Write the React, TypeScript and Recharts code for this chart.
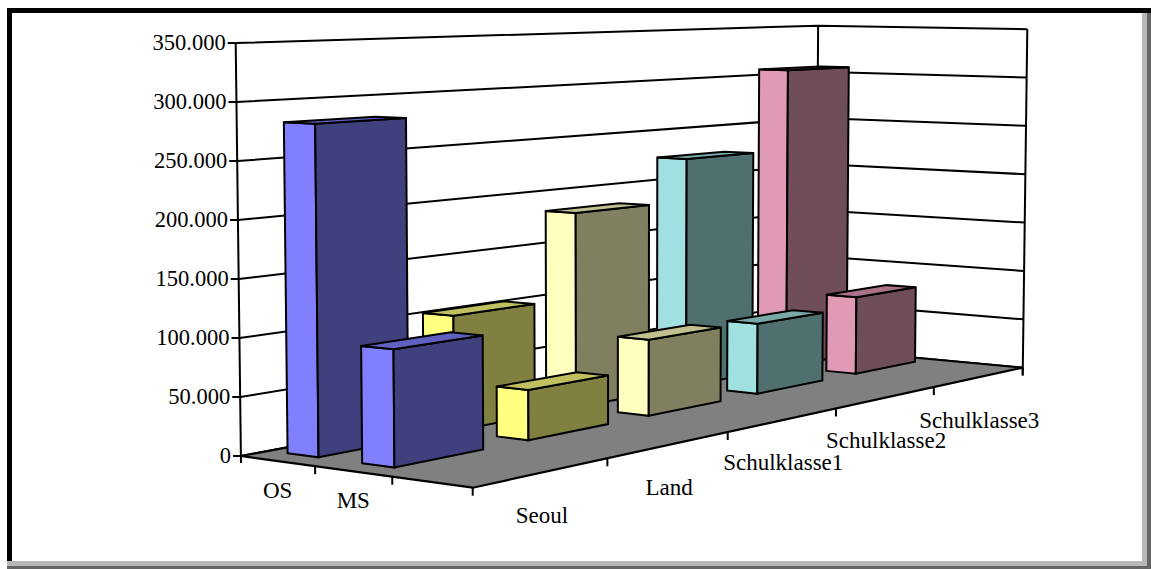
import React from "react";
import { Bar, BarChart, CartesianGrid, XAxis, YAxis } from "recharts";

// Categories run from the near corner to the far corner of the floor,
// rows run from the back to the front. The third row is empty.
const categories = ["Seoul", "Land", "Schulklasse1", "Schulklasse2", "Schulklasse3"];
const rows = ["OS", "MS", ""];
const osValues = [282000, 103000, 183000, 224500, 307000];
const msValues = [98000, 44000, 70300, 68000, 78000];
const valueTicks = [0, 50000, 100000, 150000, 200000, 250000, 300000, 350000];

const lightFaces = ["#8080FF", "#FFFF80", "#FFFFC0", "#A0E0E0", "#E09AB6"];
const darkFaces = ["#40407F", "#808040", "#808060", "#507070", "#704D5B"];
const topFaces = ["#6060C0", "#C0C060", "#C0C090", "#78A8A8", "#A87389"];

const WIDTH = 1151;
const HEIGHT = 569;
const PLOT_TOP = 43;
const PLOT_BOTTOM = 456;
const PLOT_LEFT = 241;
const STROKE = 2;
const FONT = { fontFamily: "Liberation Serif", fontSize: 23, fill: "#000" };

// Floor corners on screen; the oblique view is a homography of the unit square.
const FLOOR = { a: [241, 456], d: [816, 348.5], c: [1022.7, 367.7], b: [472.7, 487.7] };
const VANISH = [620, 30000];

const H = (() => {
  const [x0, y0] = FLOOR.a;
  const [x1, y1] = FLOOR.d;
  const [x2, y2] = FLOOR.c;
  const [x3, y3] = FLOOR.b;
  const dx1 = x1 - x2;
  const dx2 = x3 - x2;
  const sx = x0 - x1 + x2 - x3;
  const dy1 = y1 - y2;
  const dy2 = y3 - y2;
  const sy = y0 - y1 + y2 - y3;
  const det = dx1 * dy2 - dx2 * dy1;
  const g = (sx * dy2 - dx2 * sy) / det;
  const h = (dx1 * sy - sx * dy1) / det;
  return {
    a: x1 - x0 + g * x1,
    b: x3 - x0 + h * x3,
    c: x0,
    d: y1 - y0 + g * y1,
    e: y3 - y0 + h * y3,
    f: y0,
    g,
    h,
  };
})();

// u: along categories, v: along rows, lift: pixels on the value scale.
function project(u: number, v: number, lift = 0): [number, number] {
  const w = H.g * u + H.h * v + 1;
  const px = (H.a * u + H.b * v + H.c) / w;
  const py = (H.d * u + H.e * v + H.f) / w;
  const dx = px - VANISH[0];
  const dy = py - VANISH[1];
  const len = Math.hypot(dx, dy);
  const up = lift / w;
  return [px + (dx / len) * up, py + (dy / len) * up];
}

const pts = (list: [number, number][]) => list.map((p) => p.join(",")).join(" ");

const U_HALF = 0.065;
const V_HALF = 0.07;
const uCentre = (i: number) => (i + 0.52) / categories.length;
const vCentre = (j: number) => (j + 0.46) / rows.length;

function Box({ payload, height, row }: any) {
  const i = categories.indexOf(payload.category);
  const u0 = uCentre(i) - U_HALF;
  const u1 = uCentre(i) + U_HALF;
  const v0 = vCentre(row) - V_HALF;
  const v1 = vCentre(row) + V_HALF;
  const common = { stroke: "#000", strokeWidth: STROKE, strokeLinejoin: "miter" as const };
  return (
    <g>
      <polygon
        {...common}
        fill={lightFaces[i]}
        points={pts([project(u0, v0), project(u0, v1), project(u0, v1, height), project(u0, v0, height)])}
      />
      <polygon
        {...common}
        fill={darkFaces[i]}
        points={pts([project(u0, v1), project(u1, v1), project(u1, v1, height), project(u0, v1, height)])}
      />
      <polygon
        {...common}
        fill={topFaces[i]}
        points={pts([project(u0, v0, height), project(u0, v1, height), project(u1, v1, height), project(u1, v0, height)])}
      />
    </g>
  );
}

// Walls, floor and the tick marks of the two floor axes
function Room() {
  const plotH = PLOT_BOTTOM - PLOT_TOP;
  const line = { stroke: "#000", strokeWidth: STROKE, fill: "none" };
  const corner = (u: number, v: number, below: number) => {
    const [x, y] = project(u, v);
    const [tx, ty] = project(u, v, plotH);
    return <line {...line} x1={x} y1={y + below} x2={tx} y2={ty} />;
  };
  return (
    <g>
      <polygon
        points={pts([project(0, 0), project(1, 0), project(1, 1), project(0, 1)])}
        fill="#808080"
        stroke="#000"
        strokeWidth={2.2}
      />
      {corner(0, 0, 7)}
      {corner(1, 0, 0)}
      {corner(1, 1, 7)}
      {categories.map((c, i) => {
        const [x, y] = project((i + 1) / categories.length, 1);
        return <line key={c} {...line} x1={x} y1={y} x2={x} y2={y + 8} />;
      })}
      {rows.map((r, j) => {
        const [x, y] = project(0, (j + 1) / rows.length);
        return <line key={j} {...line} x1={x} y1={y} x2={x} y2={y + 8} />;
      })}
      {rows.map((r, j) => {
        const [x, y] = project(0, (j + 0.5) / rows.length);
        return (
          <text key={j} x={x} y={y + 37} textAnchor="middle" {...FONT}>
            {r}
          </text>
        );
      })}
    </g>
  );
}

// Each horizontal grid value wraps round the two back walls
function WallLine({ y1 }: any) {
  const lift = PLOT_BOTTOM - y1;
  return (
    <polyline
      points={pts([project(0, 0, lift), project(1, 0, lift), project(1, 1, lift)])}
      fill="none"
      stroke="#000"
      strokeWidth={STROKE}
    />
  );
}

function ValueTick({ y, payload }: any) {
  const [x, py] = project(0, 0, PLOT_BOTTOM - y);
  return (
    <g>
      <line x1={x - 8} y1={py} x2={x} y2={py} stroke="#000" strokeWidth={STROKE} />
      <text x={x - 10} y={py + 7} textAnchor="end" {...FONT} fontSize={22.5}>
        {payload.value.toLocaleString("de-DE")}
      </text>
    </g>
  );
}

function CategoryTick({ payload }: any) {
  const i = categories.indexOf(payload.value);
  const [x, y] = project((i + 0.5) / categories.length, 1);
  return (
    <text x={x} y={y + 50.5} textAnchor="middle" {...FONT}>
      {payload.value}
    </text>
  );
}

// Far categories first so nearer boxes paint over them
const table = categories
  .map((category, i) => ({ category, OS: osValues[i], MS: msValues[i] }))
  .reverse();

const frameParts: [number, number, number, number, string][] = [
  [1142, 13, 5, 553, "#B8B8B8"],
  [1147, 13, 4, 556, "#666666"],
  [7, 561, 1140, 5, "#B8B8B8"],
  [7, 566, 1144, 3, "#666666"],
  [7, 8, 1144, 5, "#000"],
  [7, 8, 5, 553, "#000"],
];

export default function App() {
  return (
    <div style={{ position: "absolute", left: 0, top: 0, width: WIDTH, height: HEIGHT, background: "#fff" }}>
      {frameParts.map(([left, top, width, height, background], i) => (
        <div key={i} style={{ position: "absolute", left, top, width, height, background }} />
      ))}
      <div style={{ position: "absolute", left: 0, top: 0 }}>
        <BarChart
          width={WIDTH}
          height={HEIGHT}
          data={table}
          margin={{ top: PLOT_TOP, right: 120, bottom: HEIGHT - PLOT_BOTTOM - 30, left: 0 }}
        >
          <Room />
          <CartesianGrid vertical={false} horizontal={WallLine} />
          <XAxis dataKey="category" height={30} axisLine={false} tickLine={false} interval={0} tick={CategoryTick} />
          <YAxis
            width={PLOT_LEFT}
            domain={[0, 350000]}
            ticks={valueTicks}
            axisLine={false}
            tickLine={false}
            tick={ValueTick}
          />
          <Bar dataKey="OS" isAnimationActive={false} shape={(p: any) => <Box {...p} row={0} />} />
          <Bar dataKey="MS" isAnimationActive={false} shape={(p: any) => <Box {...p} row={1} />} />
        </BarChart>
      </div>
    </div>
  );
}
